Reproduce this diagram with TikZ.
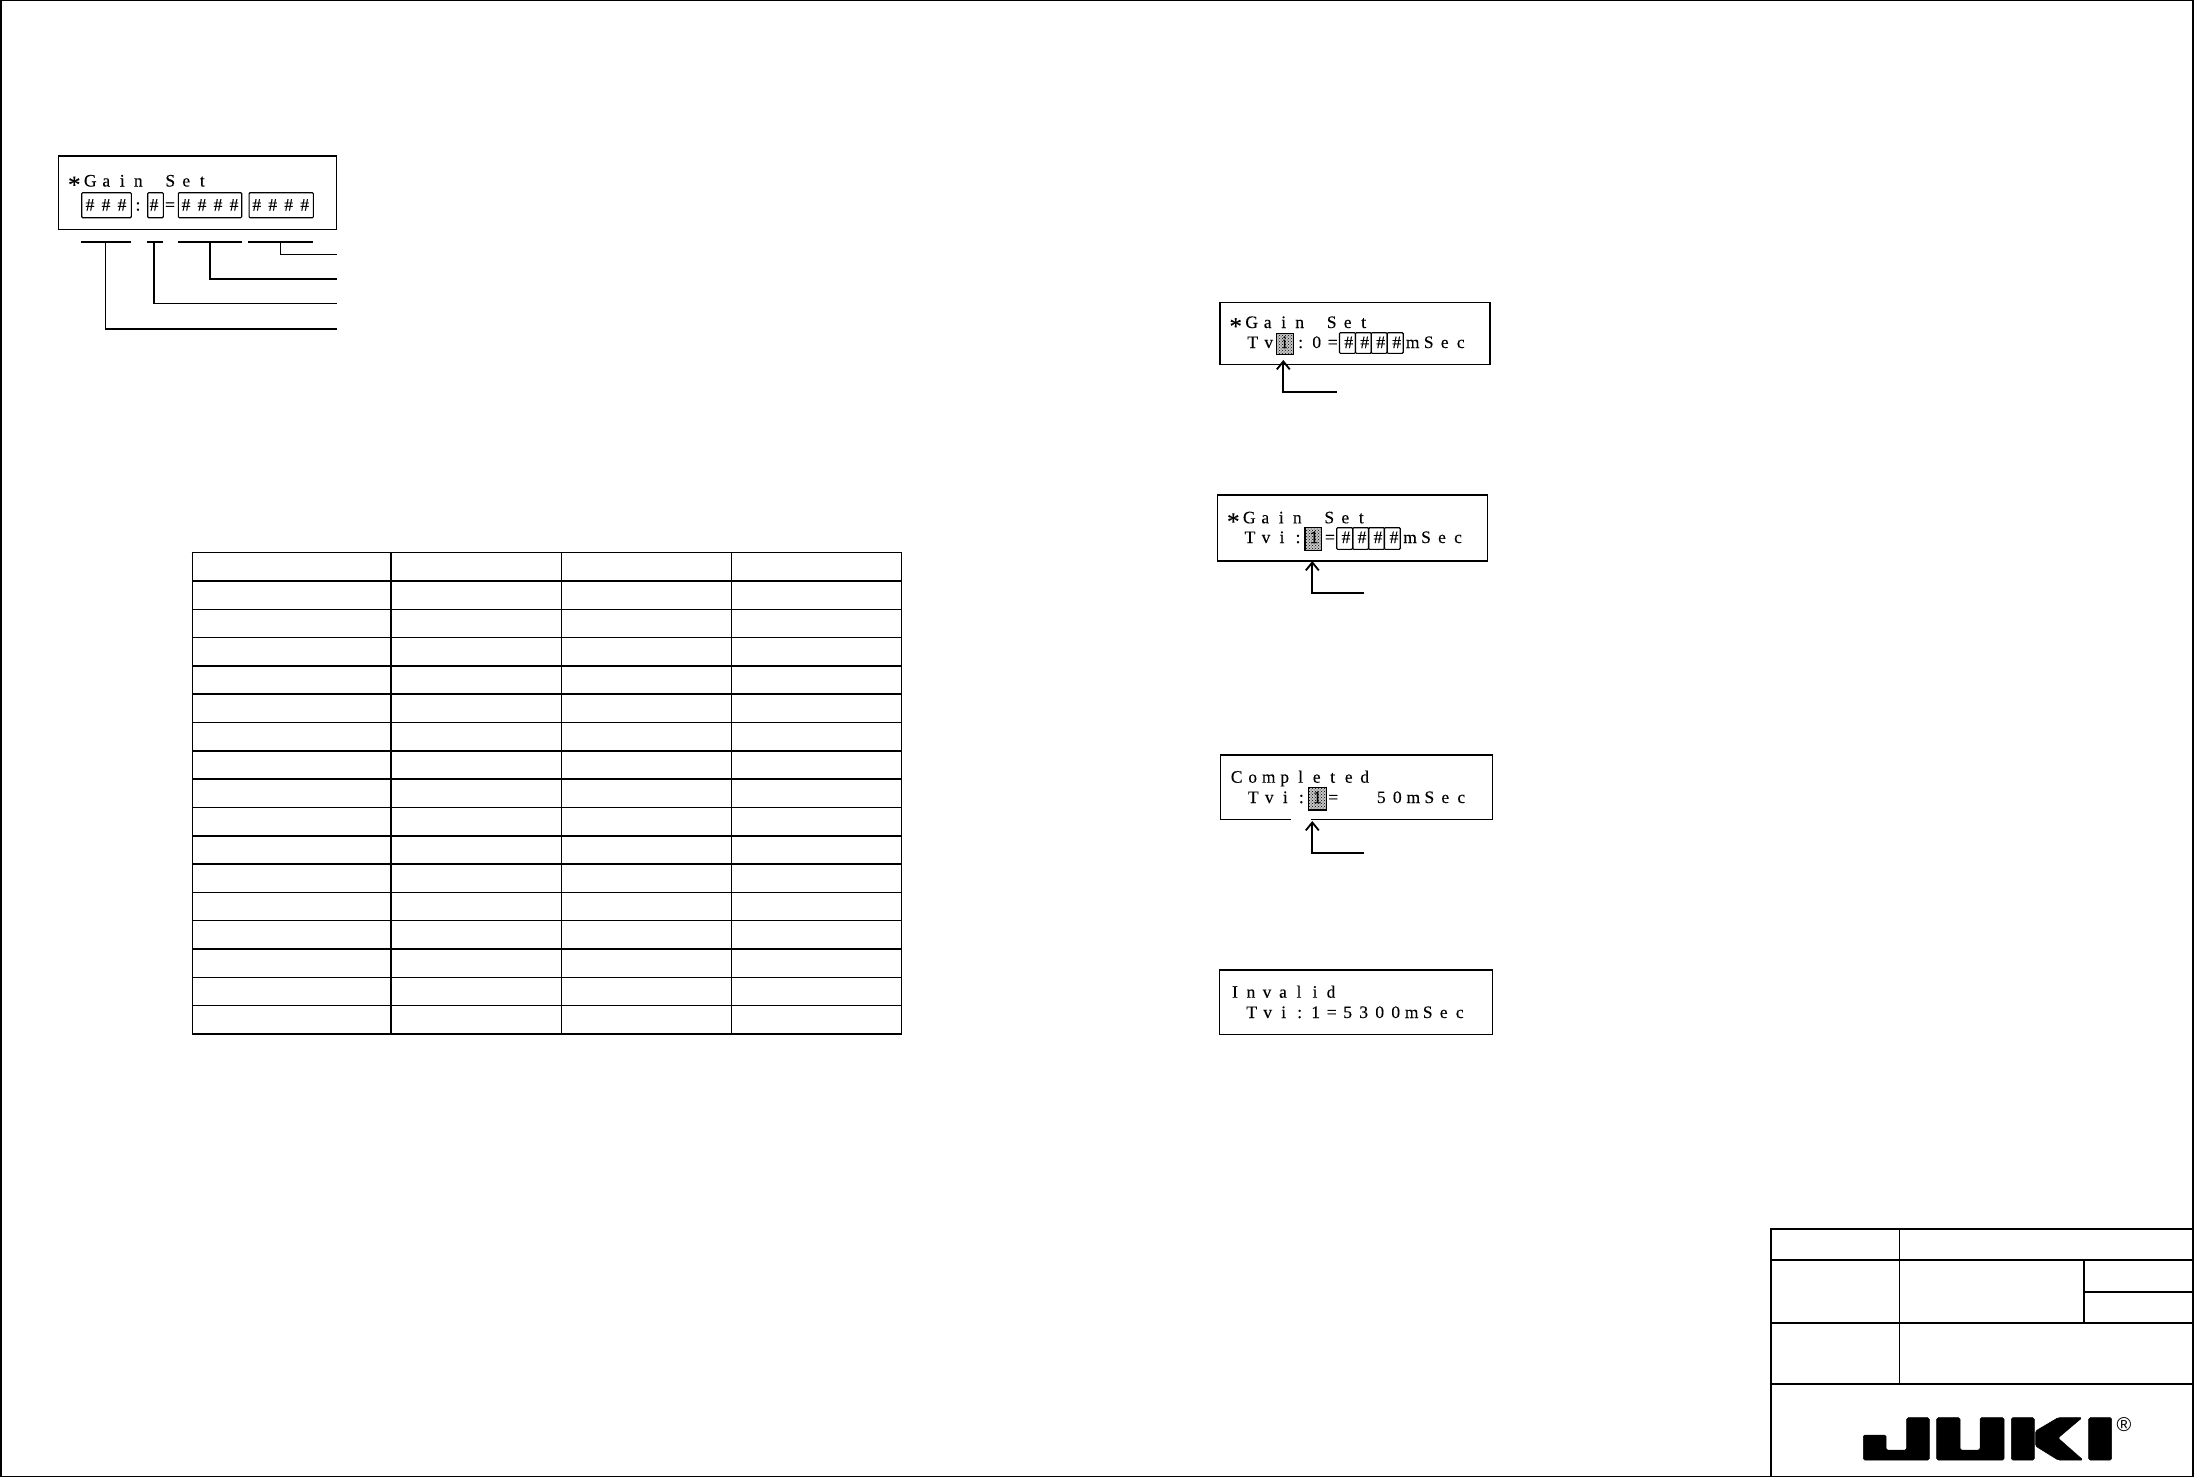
\documentclass[tikz,border=0pt]{standalone}
\usepackage{fontspec}
\setmainfont{Liberation Serif}
\newfontfamily\lcdfont[FakeBold=0.25]{Liberation Serif}
\usetikzlibrary{arrows.meta,patterns}
\newlength{\lcdw}
\setlength{\lcdw}{16pt}
\def\lcdloop#1{\ifx#1\relax\else\makebox[\lcdw]{#1}\expandafter\lcdloop\fi}
\newcommand{\lcdtext}[1]{\lcdloop#1\relax}
\newcommand{\lcdstar}{\raisebox{-6.5pt}{\fontsize{25}{25}\selectfont *}}
\tikzset{
  x=1pt,y=-1pt,
  lcdframe/.style={draw,line width=1.3pt,inner sep=0pt,outer sep=0pt},
  hashcell/.style={draw,line width=1.1pt,rounded corners=1pt,inner sep=0pt,outer sep=0pt},
  shadecell/.style={draw,line width=1.1pt,preaction={fill=gray!45},pattern=crosshatch dots,inner sep=0pt,outer sep=0pt},
  lcdline/.style={anchor=base west,inner sep=0pt,outer sep=0pt,font=\lcdfont\fontsize{17.5}{17.5}\selectfont},
  leader/.style={draw,line width=1.3pt,line cap=rect},
  pointer/.style={draw,line width=2pt,-{Straight Barb[length=8pt,width=13pt,line width=1.8pt]}},
  ruleline/.style={draw,line width=1.2pt},
  ruleheavy/.style={draw,line width=2.2pt},
  logopart/.style={fill=black,draw=black,line width=.5pt,rounded corners=1.5pt}
}
\begin{document}
\begin{tikzpicture}
\useasboundingbox (0,0) rectangle (2194,1477);
\fill[white] (0,0) rectangle (2194,1477);
% sheet frame
\draw[line width=2pt] (1,0) -- (1,1477);
\draw[line width=1pt] (0,.5) -- (2194,.5);
\draw[line width=1.3pt] (2193,0) -- (2193,1477);
\draw[line width=1.3pt] (0,1476.3) -- (2194,1476.3);

% left display
\node[lcdframe,minimum width=278.4pt,minimum height=73.3pt] (d1) at (197.5,192.6) {};
\node[hashcell,minimum width=49.6pt,minimum height=25pt] (c1a) at (106.5,205.2) {};
\node[hashcell,minimum width=15.6pt,minimum height=25pt] (c1b) at (155.5,205.2) {};
\node[hashcell,minimum width=63.4pt,minimum height=25pt] (c1c) at (210,205.2) {};
\node[hashcell,minimum width=64.3pt,minimum height=25pt] (c1d) at (281.2,205.2) {};
\node[lcdline] (t1a) at (66.3,186.5) {\lcdtext{\lcdstar Gain~Set}};
\node[lcdline] (t1b) at (82,210.5) {\lcdtext{\#\#\#:\#=\#\#\#\#}};
\node[lcdline] (t1c) at (248.7,210.5) {\lcdtext{\#\#\#\#}};
% underlines and leaders
\coordinate (u1a) at (81.7,242); \coordinate (u1b) at (130.7,242);
\coordinate (u2a) at (147.3,242); \coordinate (u2b) at (162.7,242);
\coordinate (u3a) at (178.3,242); \coordinate (u3b) at (241,242);
\coordinate (u4a) at (249,242); \coordinate (u4b) at (312.7,242);
\coordinate (s4) at (280.7,242); \coordinate (e4) at (336,254.7);
\coordinate (s3) at (210,242); \coordinate (e3) at (336,279);
\coordinate (s2) at (154,242); \coordinate (e2) at (336,303.7);
\coordinate (s1) at (105.7,242); \coordinate (e1) at (336,329);
\path[leader] (u1a) -- (u1b);
\path[leader] (u2a) -- (u2b);
\path[leader] (u3a) -- (u3b);
\path[leader] (u4a) -- (u4b);
\path[leader] (s4) |- (e4);
\path[leader] (s3) |- (e3);
\path[leader] (s2) |- (e2);
\path[leader] (s1) |- (e1);

% table
\foreach \yy in {609.3,637.3,722.3,807.3,892.3,920.3,977.3,1005.3}
  \path[ruleline] (192.3,\yy) -- (901.3,\yy);
\foreach \yy in {581,666,694,751,779,835.7,863.7,948.7,1033.7}
  \path[ruleheavy] (192.3,\yy) -- (901.3,\yy);
\path[ruleline] (191.7,552.5) -- (901.9,552.5);
\path[draw,line width=1.4pt] (192.3,552) -- (192.3,1034.5);
\path[ruleheavy] (391,552.5) -- (391,1034);
\path[ruleline] (561.3,552.5) -- (561.3,1034);
\path[ruleline] (731.7,552.5) -- (731.7,1034);
\path[draw,line width=1.4pt] (901.3,552) -- (901.3,1034.5);

% display 2
\node[lcdframe,minimum width=270pt,minimum height=62pt] (d2) at (1355,333.3) {};
\node[shadecell,minimum width=17.3pt,minimum height=21pt] (h2) at (1284.7,343.8) {};
\foreach \n/\xx in {a/1347.5,b/1363.4,c/1379.1,d/1395.2}
  \node[hashcell,minimum width=16pt,minimum height=20.6pt] (c2\n) at (\xx,343) {};
\node[lcdline] (t2a) at (1227.7,328) {\lcdtext{\lcdstar Gain~Set}};
\node[lcdline] (t2b) at (1244.7,348) {\lcdtext{Tvi:0=\#\#\#\#mSec}};
\coordinate (k2) at (1283.3,360); \coordinate (f2) at (1336.7,391.7);
\path[pointer] (f2) -| (k2);

% display 3
\node[lcdframe,minimum width=270pt,minimum height=66pt] (d3) at (1352.3,528) {};
\node[shadecell,minimum width=16.7pt,minimum height=23pt] (h3) at (1313.3,539.2) {};
\foreach \n/\xx in {a/1344.7,b/1360.7,c/1376.5,d/1392.2}
  \node[hashcell,minimum width=16pt,minimum height=21.6pt] (c3\n) at (\xx,538.5) {};
\node[lcdline] (t3a) at (1225.3,523.3) {\lcdtext{\lcdstar Gain~Set}};
\node[lcdline] (t3b) at (1242,543) {\lcdtext{Tvi:1=\#\#\#\#mSec}};
\coordinate (k3) at (1312.3,561); \coordinate (f3) at (1364.3,593.3);
\path[pointer] (f3) -| (k3);

% display 4
\node[lcdframe,minimum width=272pt,minimum height=64.3pt] (d4) at (1356.7,787.2) {};
\draw[white,line width=2.4pt] (1291,819.3) -- (1311,819.3);
\node[shadecell,minimum width=17.7pt,minimum height=22.3pt] (h4) at (1317.2,798.8) {};
\node[lcdline] (t4a) at (1228.7,782.7) {\lcdtext{Completed}};
\node[lcdline] (t4b) at (1245.3,803) {\lcdtext{Tvi:1=~~50mSec}};
\coordinate (k4) at (1312.3,821); \coordinate (f4) at (1364.3,853.3);
\path[pointer] (f4) -| (k4);

% display 5
\node[lcdframe,minimum width=273.4pt,minimum height=64.3pt] (d5) at (1356,1002.2) {};
\node[lcdline] (t5a) at (1227,997.7) {\lcdtext{Invalid}};
\node[lcdline] (t5b) at (1243.7,1018) {\lcdtext{Tvi:1=5300mSec}};

% title block
\path[ruleheavy] (1770.7,1228) -- (1770.7,1477);
\path[ruleheavy] (1770,1229) -- (2193,1229);
\path[draw,line width=1.3pt] (1770.7,1260) -- (2193,1260);
\path[draw,line width=1.3pt] (1770.7,1323) -- (2193,1323);
\path[draw,line width=1.3pt] (1770.7,1384) -- (2193,1384);
\path[draw,line width=1.3pt] (1899.7,1229) -- (1899.7,1384);
\path[draw,line width=1.3pt] (2084,1260) -- (2084,1323);
\path[draw,line width=2pt] (2084,1291.7) -- (2193,1291.7);

% logo
\path[logopart] (1863.3,1435) -- (1886,1435) -- (1886,1450) -- (1906.7,1450) -- (1906.7,1417.7) -- (1929.3,1417.7) -- (1929.3,1460) -- (1863.3,1460) -- cycle;
\path[logopart] (1936.7,1417.7) -- (1960,1417.7) -- (1960,1450) -- (1980,1450) -- (1980,1417.7) -- (2004,1417.7) -- (2004,1460) -- (1936.7,1460) -- cycle;
\path[logopart] (2011.3,1417.7) -- (2034.3,1417.7) -- (2034.3,1460) -- (2011.3,1460) -- cycle;
\path[logopart] (2035.5,1431) -- (2058,1417.7) -- (2082,1417.7) -- (2058,1438) -- (2083,1460) -- (2058,1460) -- (2035.5,1446) -- cycle;
\path[logopart] (2088.7,1417.7) -- (2111.7,1417.7) -- (2111.7,1460) -- (2088.7,1460) -- cycle;
\node[inner sep=0pt,font=\fontspec{Liberation Sans}\fontsize{20}{20}\selectfont] (reg) at (2124,1424.3) {®};
\end{tikzpicture}
\end{document}
